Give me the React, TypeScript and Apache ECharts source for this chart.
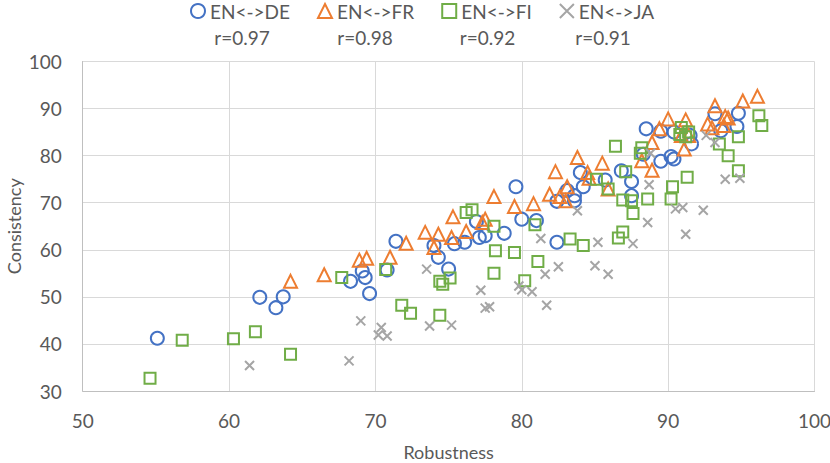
import React, { useEffect, useRef } from "react";
import * as echarts from "echarts";

const seriesNames = ["EN<->DE", "EN<->FR", "EN<->FI", "EN<->JA"];
const correlations = ["r=0.97", "r=0.98", "r=0.92", "r=0.91"];
const xTicks = [50, 60, 70, 80, 90, 100];
const yTicks = [30, 40, 50, 60, 70, 80, 90, 100];

const deData: [number, number][] = [
  [55.1, 41.2], [62.1, 49.9], [63.2, 47.7], [63.7, 50.0], [68.3, 53.3], [69.1, 55.5],
  [69.3, 54.1], [69.6, 50.7], [70.8, 55.7], [71.4, 61.8], [74.0, 60.9], [74.3, 58.4],
  [75.0, 55.9], [75.4, 61.3], [76.1, 61.6], [76.9, 66.0], [77.1, 62.6], [77.5, 63.0],
  [78.8, 63.5], [79.6, 73.4], [80.0, 66.5], [81.0, 66.2], [82.4, 61.6], [82.4, 70.3],
  [83.1, 72.6], [83.6, 71.5], [83.6, 70.4], [84.2, 73.4], [84.0, 76.4], [85.7, 74.8],
  [86.8, 76.8], [87.5, 74.5], [87.5, 71.5], [88.5, 85.7], [88.3, 80.3], [89.5, 85.2],
  [89.5, 78.8], [90.2, 79.8], [90.4, 79.3], [90.4, 85.0], [91.5, 84.3], [91.6, 82.5],
  [93.2, 88.9], [93.6, 85.3], [94.8, 89.0], [94.7, 86.2],
];

const frData: [number, number][] = [
  [64.2, 53.3], [66.5, 54.7], [68.9, 57.8], [69.4, 58.2], [71.0, 58.4], [72.1, 61.4],
  [73.4, 63.7], [74.3, 63.3], [74.0, 60.5], [75.3, 67.0], [75.2, 62.6], [76.2, 63.9],
  [77.3, 65.8], [77.5, 66.5], [78.1, 71.3], [79.5, 69.2], [80.8, 69.8], [81.9, 71.8],
  [82.3, 76.6], [82.6, 71.3], [83.0, 70.4], [83.1, 73.4], [83.8, 79.6], [84.5, 76.4],
  [84.6, 75.2], [85.5, 78.4], [85.9, 72.9], [88.2, 78.9], [88.9, 82.8], [88.9, 76.9],
  [89.4, 85.7], [90.0, 87.8], [90.9, 84.3], [91.4, 84.3], [91.1, 81.4], [91.2, 87.6],
  [92.7, 86.7], [93.0, 85.9], [93.2, 90.6], [93.9, 88.3], [94.1, 88.0], [93.8, 86.4],
  [95.1, 91.6], [96.1, 92.6],
];

const fiData: [number, number][] = [
  [54.6, 32.7], [56.8, 40.8], [60.3, 41.1], [61.8, 42.6], [64.2, 37.8], [67.7, 54.1],
  [70.7, 55.8], [71.8, 48.2], [72.4, 46.5], [74.4, 53.3], [74.6, 52.7], [75.1, 54.0],
  [74.4, 46.1], [76.2, 67.9], [76.6, 68.5], [78.1, 65.0], [78.2, 59.8], [79.5, 59.4],
  [78.1, 55.0], [80.2, 53.4], [81.1, 57.5], [80.9, 65.3], [83.3, 62.3], [84.2, 60.9],
  [85.1, 75.0], [85.9, 72.9], [87.1, 76.6], [86.4, 82.0], [88.2, 81.7], [86.9, 70.6],
  [87.5, 70.4], [87.6, 67.7], [88.6, 70.8], [86.6, 62.5], [86.9, 63.8], [90.2, 70.8],
  [90.3, 73.4], [91.3, 75.4], [88.1, 80.5], [90.9, 86.0], [90.8, 84.5], [91.2, 84.0],
  [91.4, 85.0], [93.5, 82.5], [94.1, 80.0], [94.8, 76.8], [94.8, 84.0], [96.2, 88.5],
  [96.4, 86.4],
];

const jaData: [number, number][] = [
  [61.4, 35.4], [68.2, 36.4], [69.0, 44.9], [70.4, 43.5], [70.2, 41.9], [70.8, 41.7],
  [73.5, 55.9], [73.7, 43.8], [75.2, 44.0], [77.2, 51.4], [77.5, 47.6], [77.8, 47.9],
  [79.8, 52.3], [80.0, 51.5], [80.7, 51.1], [81.7, 48.2], [81.6, 54.8], [82.5, 56.4],
  [81.3, 62.4], [83.8, 68.3], [85.2, 61.6], [85.0, 56.6], [85.9, 54.8], [87.6, 61.3],
  [88.6, 65.8], [88.7, 73.8], [88.8, 80.5], [90.5, 68.7], [91.0, 69.0], [92.4, 68.4],
  [91.2, 63.3], [92.6, 84.3], [93.2, 82.8], [93.9, 75.0], [94.9, 75.2],
];

const colors = ["#4472C4", "#ED7D31", "#70AD47", "#A5A5A5"];
const crossPath = "path://M0,0L10,10M10,0L0,10";
const symbols = ["circle", "triangle", "rect", crossPath];
const symbolSizes = [13, 13, 11, 9];
const datasets = [deData, frData, fiData, jaData];

const FONT = "Lato, 'Open Sans', sans-serif";
const TEXT = "#595959";

export default function App() {
  const ref = useRef<HTMLDivElement>(null);
  useEffect(() => {
    if (!ref.current) return;
    const chart = echarts.init(ref.current, undefined, { renderer: "svg" });
    const rX = [242, 365, 487.5, 603];
    chart.setOption({
      animation: false,
      backgroundColor: "#ffffff",
      textStyle: { fontFamily: FONT },
      grid: {
        left: 82.7,
        right: 15.5,
        top: 61.5,
        bottom: 72,
        containLabel: false,
        outerBoundsMode: "none",
      },
      legend: {
        top: 1.5,
        left: 185,
        padding: [0, 5],
        itemGap: 27,
        itemWidth: 14,
        itemHeight: 14,
        textStyle: { fontFamily: FONT, fontSize: 19, color: TEXT },
        data: seriesNames.map((n, i) => ({
          name: n,
          icon: symbols[i],
          itemStyle: {
            color: i === 3 ? colors[i] : "transparent",
            borderColor: colors[i],
            borderWidth: 2,
          },
        })),
      },
      graphic: correlations.map((t, i) => ({
        type: "text",
        x: rX[i],
        y: 37.3,
        style: {
          text: t,
          fontFamily: FONT,
          fontSize: 19,
          fill: TEXT,
          textAlign: "center",
          textVerticalAlign: "middle",
        },
      })),
      xAxis: {
        type: "value",
        min: xTicks[0],
        max: xTicks[xTicks.length - 1],
        interval: 10,
        name: "Robustness",
        nameLocation: "middle",
        nameGap: 52,
        nameMoveOverlap: false,
        nameTextStyle: { fontFamily: FONT, fontSize: 18, color: TEXT },
        axisLine: { show: true, lineStyle: { color: "#BFBFBF", width: 1 } },
        axisTick: { show: false },
        axisLabel: { fontFamily: FONT, fontSize: 19, color: TEXT, margin: 20 },
        splitLine: { show: true, lineStyle: { color: "#D9D9D9", width: 1 } },
      },
      yAxis: {
        type: "value",
        min: yTicks[0],
        max: yTicks[yTicks.length - 1],
        interval: 10,
        name: "Consistency",
        nameLocation: "middle",
        nameGap: 60,
        nameMoveOverlap: false,
        nameRotate: 90,
        nameTextStyle: { fontFamily: FONT, fontSize: 18, color: TEXT },
        axisLine: { show: true, lineStyle: { color: "#BFBFBF", width: 1 } },
        axisTick: { show: false },
        axisLabel: { fontFamily: FONT, fontSize: 19, color: TEXT, margin: 21 },
        splitLine: { show: true, lineStyle: { color: "#D9D9D9", width: 1 } },
      },
      series: datasets.map((d, i) => ({
        name: seriesNames[i],
        type: "scatter",
        data: d,
        symbol: symbols[i],
        symbolSize: symbolSizes[i],
        itemStyle: {
          color: i === 3 ? colors[i] : "transparent",
          borderColor: colors[i],
          borderWidth: 2,
          opacity: 1,
        },
        emphasis: { disabled: true },
      })),
    });
    return () => chart.dispose();
  }, []);
  return (
    <div
      ref={ref}
      style={{ position: "fixed", left: 0, top: 0, width: 830, height: 463, background: "#fff" }}
    />
  );
}
